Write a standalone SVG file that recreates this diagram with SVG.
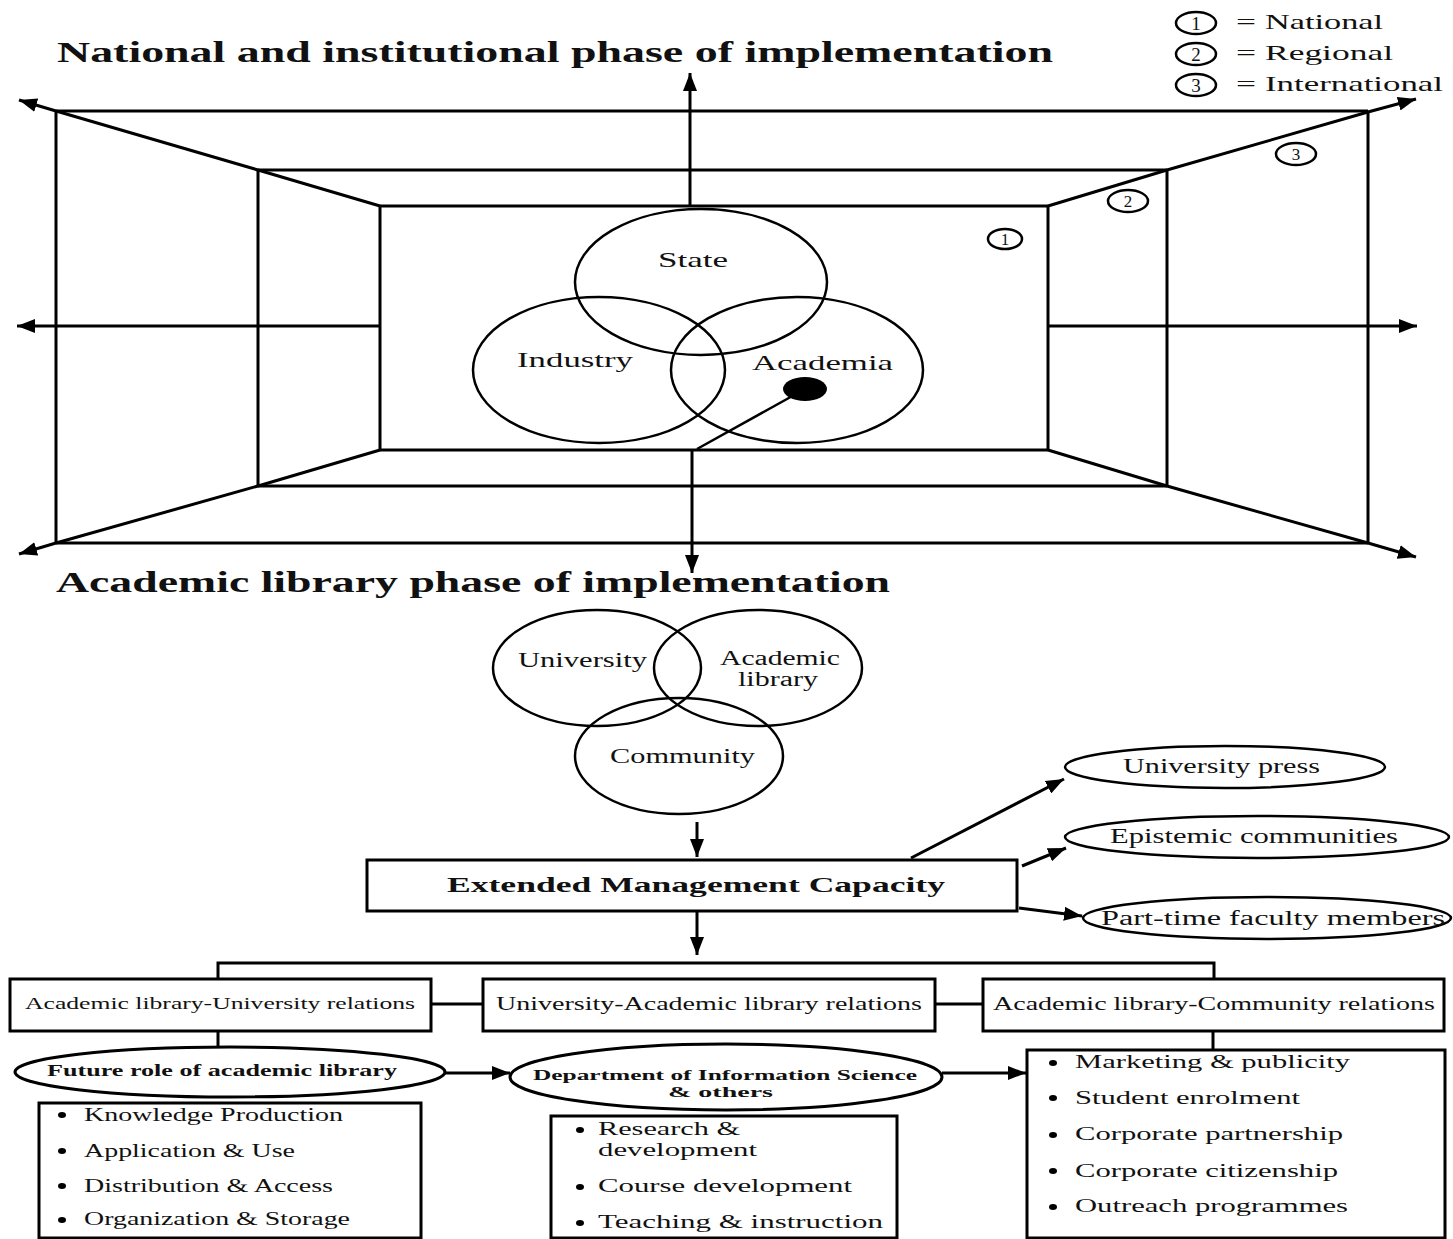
<svg xmlns="http://www.w3.org/2000/svg" width="1453" height="1239" viewBox="0 0 1453 1239">
<defs>
<marker id="ah" markerUnits="userSpaceOnUse" markerWidth="20" markerHeight="14" refX="18" refY="7" orient="auto"><path d="M0,0 L18,7 L0,14 z" fill="#000"/></marker>
</defs>
<style>
.ln{stroke:#000;stroke-width:3;fill:none}
.sh{stroke:#000;stroke-width:2.5;fill:none}
.bx{stroke:#000;stroke-width:3;fill:#fff}
.t{font-family:"Liberation Serif","Times New Roman",serif;fill:#111}
.b{font-weight:bold}
.blt{fill:#000}
</style>
<rect width="1453" height="1239" fill="#fff"/>

<g id="titles">
<text class="t b" x="57" y="62" font-size="29" textLength="996" lengthAdjust="spacingAndGlyphs">National and institutional phase of implementation</text>
<text class="t b" x="56" y="592" font-size="29" textLength="834" lengthAdjust="spacingAndGlyphs">Academic library phase of implementation</text>
</g>

<g id="legend">
<ellipse class="sh" cx="1196" cy="23" rx="20" ry="11"/>
<text class="t" x="1196" y="30" font-size="19" text-anchor="middle">1</text>
<text class="t" x="1236" y="29" font-size="21" textLength="20" lengthAdjust="spacingAndGlyphs">=</text>
<text class="t" x="1265" y="29" font-size="21" textLength="118" lengthAdjust="spacingAndGlyphs">National</text>
<ellipse class="sh" cx="1196" cy="54" rx="20" ry="11"/>
<text class="t" x="1196" y="61" font-size="19" text-anchor="middle">2</text>
<text class="t" x="1236" y="60" font-size="21" textLength="20" lengthAdjust="spacingAndGlyphs">=</text>
<text class="t" x="1265" y="60" font-size="21" textLength="128" lengthAdjust="spacingAndGlyphs">Regional</text>
<ellipse class="sh" cx="1196" cy="85" rx="20" ry="11"/>
<text class="t" x="1196" y="92" font-size="19" text-anchor="middle">3</text>
<text class="t" x="1236" y="91" font-size="21" textLength="20" lengthAdjust="spacingAndGlyphs">=</text>
<text class="t" x="1265" y="91" font-size="21" textLength="178" lengthAdjust="spacingAndGlyphs">International</text>
</g>

<g id="frame">
<line class="ln" x1="56" y1="111" x2="1368" y2="111"/>
<line class="ln" x1="56" y1="543" x2="1368" y2="543"/>
<line class="ln" x1="56" y1="111" x2="56" y2="543"/>
<line class="ln" x1="1368" y1="111" x2="1368" y2="543"/>
<line class="ln" x1="258" y1="170" x2="1167" y2="170"/>
<line class="ln" x1="258" y1="486" x2="1167" y2="486"/>
<line class="ln" x1="258" y1="170" x2="258" y2="486"/>
<line class="ln" x1="1167" y1="170" x2="1167" y2="486"/>
<line class="ln" x1="380" y1="206" x2="1048" y2="206"/>
<line class="ln" x1="380" y1="450" x2="1048" y2="450"/>
<line class="ln" x1="380" y1="206" x2="380" y2="450"/>
<line class="ln" x1="1048" y1="206" x2="1048" y2="450"/>
</g>

<g id="scope-labels">
<ellipse class="sh" cx="1005" cy="239" rx="17" ry="10"/>
<text class="t" x="1005" y="245" font-size="17" text-anchor="middle">1</text>
<ellipse class="sh" cx="1128" cy="201" rx="20" ry="11"/>
<text class="t" x="1128" y="207" font-size="17" text-anchor="middle">2</text>
<ellipse class="sh" cx="1296" cy="154" rx="20" ry="11"/>
<text class="t" x="1296" y="160" font-size="17" text-anchor="middle">3</text>
</g>

<g id="venn-state">
<ellipse class="sh" cx="701" cy="282" rx="126" ry="73"/>
<text class="t" x="658" y="267" font-size="22" textLength="70" lengthAdjust="spacingAndGlyphs">State</text>
</g>
<g id="venn-industry">
<ellipse class="sh" cx="599" cy="370" rx="126" ry="73"/>
<text class="t" x="517" y="367" font-size="22" textLength="116" lengthAdjust="spacingAndGlyphs">Industry</text>
</g>
<g id="venn-academia">
<ellipse class="sh" cx="797" cy="370" rx="126" ry="73"/>
<text class="t" x="752" y="370" font-size="22" textLength="141" lengthAdjust="spacingAndGlyphs">Academia</text>
<ellipse cx="805" cy="389" rx="22" ry="12" fill="#000"/>
</g>

<g id="venn-university">
<ellipse class="sh" cx="597" cy="668" rx="104" ry="58"/>
<text class="t" x="518" y="667" font-size="20" textLength="129" lengthAdjust="spacingAndGlyphs">University</text>
</g>
<g id="venn-academic-library">
<ellipse class="sh" cx="758" cy="668" rx="104" ry="58"/>
<text class="t" x="720" y="665" font-size="20" textLength="120" lengthAdjust="spacingAndGlyphs">Academic</text>
<text class="t" x="738" y="686" font-size="20" textLength="80" lengthAdjust="spacingAndGlyphs">library</text>
</g>
<g id="venn-community">
<ellipse class="sh" cx="679" cy="756" rx="104" ry="58"/>
<text class="t" x="610" y="763" font-size="20" textLength="145" lengthAdjust="spacingAndGlyphs">Community</text>
</g>

<g id="extended-management-capacity">
<rect class="bx" x="367" y="860" width="650" height="51"/>
<text class="t b" x="447" y="892" font-size="22" textLength="498" lengthAdjust="spacingAndGlyphs">Extended Management Capacity</text>
</g>

<g id="university-press">
<ellipse class="sh" cx="1225" cy="767" rx="160" ry="21"/>
<text class="t" x="1123" y="773" font-size="20" textLength="197" lengthAdjust="spacingAndGlyphs">University press</text>
</g>
<g id="epistemic-communities">
<ellipse class="sh" cx="1257" cy="837" rx="192" ry="21"/>
<text class="t" x="1110" y="843" font-size="20" textLength="288" lengthAdjust="spacingAndGlyphs">Epistemic communities</text>
</g>
<g id="part-time-faculty">
<ellipse class="sh" cx="1267" cy="918" rx="184" ry="21"/>
<text class="t" x="1101" y="925" font-size="20" textLength="344" lengthAdjust="spacingAndGlyphs">Part-time faculty members</text>
</g>

<g id="connectors">
<line class="ln" x1="690" y1="206" x2="690" y2="73" marker-end="url(#ah)"/>
<line class="ln" x1="692" y1="450" x2="692" y2="573" marker-end="url(#ah)"/>
<line class="ln" x1="380" y1="326" x2="17" y2="326" marker-end="url(#ah)"/>
<line class="ln" x1="1048" y1="326" x2="1417" y2="326" marker-end="url(#ah)"/>
<polyline class="ln" points="380,206 258,170 56,111" />
<line class="ln" x1="56" y1="111" x2="19" y2="100" marker-end="url(#ah)"/>
<polyline class="ln" points="380,450 258,486 56,543" />
<line class="ln" x1="56" y1="543" x2="19" y2="554" marker-end="url(#ah)"/>
<polyline class="ln" points="1048,206 1167,170 1368,112" />
<line class="ln" x1="1368" y1="112" x2="1416" y2="99" marker-end="url(#ah)"/>
<polyline class="ln" points="1048,450 1167,486 1368,543" />
<line class="ln" x1="1368" y1="543" x2="1416" y2="557" marker-end="url(#ah)"/>
<line class="sh" x1="805" y1="389" x2="697" y2="449"/>

<line class="ln" x1="697" y1="822" x2="697" y2="857" marker-end="url(#ah)"/>
<line class="ln" x1="911" y1="858" x2="1064" y2="779" marker-end="url(#ah)"/>
<line class="ln" x1="1022" y1="866" x2="1066" y2="848" marker-end="url(#ah)"/>
<line class="ln" x1="1019" y1="908" x2="1082" y2="916" marker-end="url(#ah)"/>
<line class="ln" x1="697" y1="912" x2="697" y2="955" marker-end="url(#ah)"/>
<polyline class="ln" points="218,979 218,963 1214,963 1214,979"/>
<line class="ln" x1="431" y1="1004" x2="483" y2="1004"/>
<line class="ln" x1="935" y1="1004" x2="983" y2="1004"/>
<line class="ln" x1="218" y1="1031" x2="218" y2="1048"/>
<line class="ln" x1="1213" y1="1031" x2="1213" y2="1050"/>
<line class="ln" x1="445" y1="1073" x2="510" y2="1073" marker-end="url(#ah)"/>
<line class="ln" x1="942" y1="1073" x2="1026" y2="1073" marker-end="url(#ah)"/>
</g>

<g id="rel-library-university">
<rect class="bx" x="10" y="979" width="421" height="52"/>
<text class="t" x="25" y="1009" font-size="16" textLength="390" lengthAdjust="spacingAndGlyphs">Academic library-University relations</text>
</g>
<g id="rel-university-library">
<rect class="bx" x="483" y="979" width="452" height="52"/>
<text class="t" x="496" y="1010" font-size="18" textLength="426" lengthAdjust="spacingAndGlyphs">University-Academic library relations</text>
</g>
<g id="rel-library-community">
<rect class="bx" x="983" y="979" width="461" height="52"/>
<text class="t" x="993" y="1010" font-size="18" textLength="442" lengthAdjust="spacingAndGlyphs">Academic library-Community relations</text>
</g>

<g id="future-role">
<ellipse class="bx" cx="230" cy="1072" rx="215" ry="25"/>
<text class="t b" x="47" y="1076" font-size="16" textLength="350" lengthAdjust="spacingAndGlyphs">Future role of academic library</text>
</g>
<g id="future-role-list">
<rect class="bx" x="39" y="1103" width="382" height="135"/>
<ellipse class="blt" cx="62" cy="1115" rx="4" ry="3"/>
<text class="t" x="84" y="1121" font-size="19" textLength="259" lengthAdjust="spacingAndGlyphs">Knowledge Production</text>
<ellipse class="blt" cx="62" cy="1151" rx="4" ry="3"/>
<text class="t" x="84" y="1157" font-size="19" textLength="211" lengthAdjust="spacingAndGlyphs">Application &amp; Use</text>
<ellipse class="blt" cx="62" cy="1186" rx="4" ry="3"/>
<text class="t" x="84" y="1192" font-size="19" textLength="249" lengthAdjust="spacingAndGlyphs">Distribution &amp; Access</text>
<ellipse class="blt" cx="62" cy="1220" rx="4" ry="3"/>
<text class="t" x="84" y="1225" font-size="19" textLength="266" lengthAdjust="spacingAndGlyphs">Organization &amp; Storage</text>
</g>

<g id="department">
<ellipse class="bx" cx="726" cy="1077" rx="216" ry="33"/>
<text class="t b" x="533" y="1080" font-size="15" textLength="384" lengthAdjust="spacingAndGlyphs">Department of Information Science</text>
<text class="t b" x="668" y="1097" font-size="15" textLength="105" lengthAdjust="spacingAndGlyphs">&amp; others</text>
</g>
<g id="department-list">
<rect class="bx" x="551" y="1116" width="346" height="122"/>
<ellipse class="blt" cx="580" cy="1130" rx="4" ry="3"/>
<text class="t" x="598" y="1135" font-size="19" textLength="142" lengthAdjust="spacingAndGlyphs">Research &amp;</text>
<text class="t" x="598" y="1156" font-size="19" textLength="159" lengthAdjust="spacingAndGlyphs">development</text>
<ellipse class="blt" cx="580" cy="1187" rx="4" ry="3"/>
<text class="t" x="598" y="1192" font-size="19" textLength="254" lengthAdjust="spacingAndGlyphs">Course development</text>
<ellipse class="blt" cx="580" cy="1223" rx="4" ry="3"/>
<text class="t" x="598" y="1228" font-size="19" textLength="285" lengthAdjust="spacingAndGlyphs">Teaching &amp; instruction</text>
</g>

<g id="community-list">
<rect class="bx" x="1027" y="1050" width="418" height="188"/>
<ellipse class="blt" cx="1053" cy="1063" rx="4" ry="3"/>
<text class="t" x="1075" y="1068" font-size="19" textLength="275" lengthAdjust="spacingAndGlyphs">Marketing &amp; publicity</text>
<ellipse class="blt" cx="1053" cy="1098" rx="4" ry="3"/>
<text class="t" x="1075" y="1104" font-size="19" textLength="225" lengthAdjust="spacingAndGlyphs">Student enrolment</text>
<ellipse class="blt" cx="1053" cy="1135" rx="4" ry="3"/>
<text class="t" x="1075" y="1140" font-size="19" textLength="268" lengthAdjust="spacingAndGlyphs">Corporate partnership</text>
<ellipse class="blt" cx="1053" cy="1171" rx="4" ry="3"/>
<text class="t" x="1075" y="1177" font-size="19" textLength="263" lengthAdjust="spacingAndGlyphs">Corporate citizenship</text>
<ellipse class="blt" cx="1053" cy="1207" rx="4" ry="3"/>
<text class="t" x="1075" y="1212" font-size="19" textLength="273" lengthAdjust="spacingAndGlyphs">Outreach programmes</text>
</g>
</svg>
